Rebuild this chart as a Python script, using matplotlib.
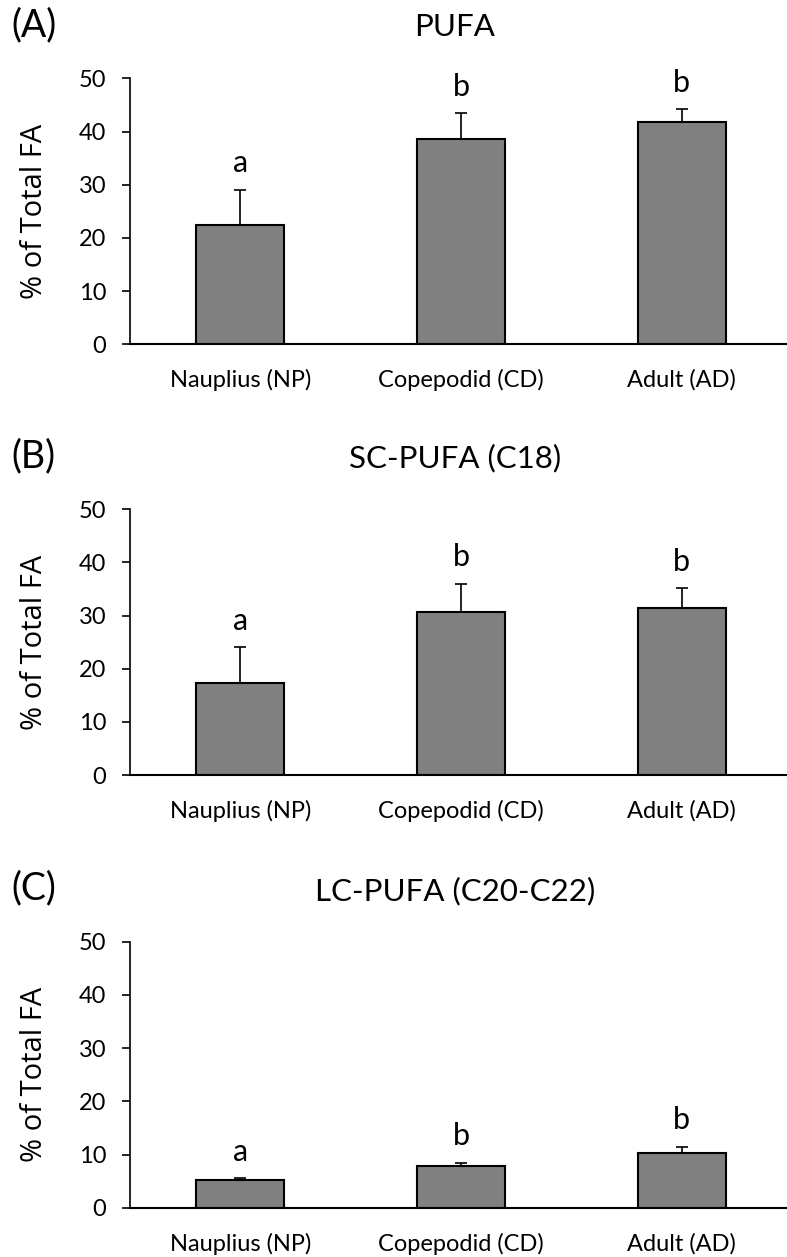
import matplotlib.pyplot as plt
import numpy as np

plt.rcParams['font.family'] = ['Lato', 'DejaVu Sans']

stages = ["Nauplius (NP)", "Copepodid (CD)", "Adult (AD)"]

pufa = [22.4, 38.5, 41.8]
pufa_err = [6.6, 4.9, 2.4]
pufa_letters = ["a", "b", "b"]

sc_pufa = [17.3, 30.6, 31.5]
sc_pufa_err = [6.7, 5.4, 3.6]
sc_pufa_letters = ["a", "b", "b"]

lc_pufa = [5.25, 7.95, 10.3]
lc_pufa_err = [0.3, 0.55, 1.2]
lc_pufa_letters = ["a", "b", "b"]

panels = [
    ("(A)", "PUFA", pufa, pufa_err, pufa_letters),
    ("(B)", "SC-PUFA (C18)", sc_pufa, sc_pufa_err, sc_pufa_letters),
    ("(C)", "LC-PUFA (C20-C22)", lc_pufa, lc_pufa_err, lc_pufa_letters),
]

W, H = 787, 1257
fig = plt.figure(figsize=(W / 100, H / 100), dpi=100)

# axes boxes in pixels: (top of 50, bottom at 0)
boxes = [(78.3, 344.3), (509.3, 775.0), (941.7, 1208.0)]
left_px, right_px = 130, 792

x = np.arange(len(stages))
for (tag, title, vals, errs, letters), (top, bot) in zip(panels, boxes):
    ax = fig.add_axes([left_px / W, 1 - bot / H, (right_px - left_px) / W, (bot - top) / H])
    ax.bar(x, vals, width=0.4, color="#808080", edgecolor="black", linewidth=1.5, zorder=2)
    ax.errorbar(x, vals, yerr=[np.zeros(len(vals)), errs], fmt="none", ecolor="black",
                elinewidth=1.2, capsize=4.3, capthick=1.2, zorder=1)
    for xi, v, e, lt in zip(x, vals, errs, letters):
        ax.text(xi, v + e + 5, lt, ha="center", va="center", fontsize=22)
    ax.set_xlim(-0.5, 2.5)
    ax.set_ylim(0, 50)
    ax.set_yticks([0, 10, 20, 30, 40, 50])
    ax.set_xticks(x)
    ax.set_xticklabels(stages, fontsize=17)
    ax.tick_params(axis="x", length=0, pad=18)
    ax.tick_params(axis="y", length=6, width=1.2, labelsize=17, pad=11)
    ax.spines["top"].set_visible(False)
    ax.spines["right"].set_visible(False)
    ax.spines["left"].set_linewidth(1.2)
    ax.spines["bottom"].set_linewidth(1.5)
    ax.set_ylabel("% of Total FA", fontsize=21, family="Open Sans")
    ax.yaxis.set_label_coords(-(130 - 49) / (right_px - left_px), 0.5)
    ytitle = 1 - (top - 51) / H
    fig.text(455 / W, ytitle, title, ha="center", va="center", fontsize=22.5)
    fig.text(11 / W, ytitle + 2 / H, tag, ha="left", va="center", fontsize=27)

fig.savefig("out.png", dpi=100)
